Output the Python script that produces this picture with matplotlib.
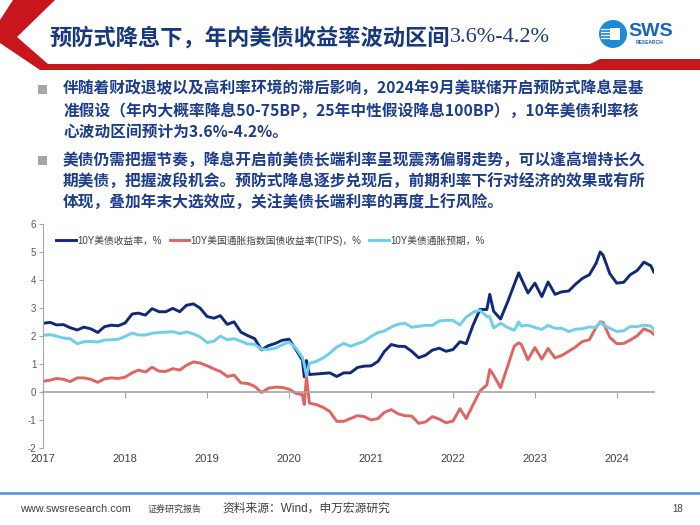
import numpy as np
import pandas as pd
import matplotlib
matplotlib.use('Agg')
import matplotlib.pyplot as plt
from matplotlib.patches import Polygon, Circle, Rectangle

plt.rcParams['font.family'] = ['Liberation Sans', 'Noto Sans CJK SC', 'DejaVu Sans']
plt.rcParams['axes.unicode_minus'] = False

# monthly readings (first trading days), Jan 2017 .. Jun 2024
months = pd.date_range('2017-01-01', '2024-06-01', freq='MS')

nominal = [
    2.45, 2.48, 2.39, 2.40, 2.29, 2.21, 2.31, 2.25, 2.12, 2.33, 2.38, 2.36,  # 2017
    2.46, 2.78, 2.81, 2.74, 2.97, 2.86, 2.86, 2.98, 2.86, 3.09, 3.14, 2.99,  # 2018
    2.69, 2.63, 2.72, 2.41, 2.50, 2.13, 2.01, 1.90, 1.50, 1.65, 1.73, 1.84,  # 2019
    1.88, 1.51, 1.13, 0.62, 0.64, 0.66, 0.68, 0.55, 0.68, 0.68, 0.87, 0.92,  # 2020
    0.93, 1.09, 1.44, 1.69, 1.63, 1.62, 1.45, 1.22, 1.31, 1.49, 1.56, 1.45,  # 2021
    1.51, 1.79, 1.72, 2.39, 2.94, 2.94, 2.88, 2.60, 3.20, 3.83, 4.05, 3.53,  # 2022
    3.88, 3.40, 3.92, 3.48, 3.57, 3.60, 3.84, 4.05, 4.18, 4.59, 4.88, 4.22,  # 2023
    3.88, 3.91, 4.18, 4.33, 4.63, 4.50,                                      # 2024
]
tips = [
    0.38, 0.42, 0.48, 0.45, 0.37, 0.50, 0.50, 0.45, 0.34, 0.47, 0.50, 0.48,
    0.53, 0.68, 0.78, 0.71, 0.88, 0.74, 0.73, 0.83, 0.78, 0.95, 1.07, 1.03,
    0.93, 0.82, 0.73, 0.55, 0.60, 0.32, 0.30, 0.20, -0.02, 0.13, 0.17, 0.16,
    0.10, -0.05, -0.10, -0.40, -0.45, -0.55, -0.70, -1.05, -1.05, -0.95, -0.85, -0.88,
    -1.00, -0.95, -0.73, -0.63, -0.78, -0.85, -0.86, -1.12, -1.07, -0.88, -0.97, -1.10,
    -1.04, -0.60, -0.95, -0.45, 0.03, 0.25, 0.60, 0.15, 0.90, 1.63, 1.70, 1.15,
    1.58, 1.17, 1.55, 1.21, 1.30, 1.45, 1.60, 1.80, 1.86, 2.30, 2.48, 1.95,
    1.72, 1.73, 1.85, 2.00, 2.25, 2.15,
]
breakeven = [
    2.02, 2.04, 1.99, 1.92, 1.90, 1.72, 1.79, 1.80, 1.78, 1.85, 1.86, 1.88,
    1.98, 2.10, 2.03, 2.03, 2.09, 2.12, 2.13, 2.15, 2.08, 2.14, 2.07, 1.96,
    1.76, 1.81, 1.99, 1.86, 1.90, 1.81, 1.71, 1.70, 1.52, 1.52, 1.56, 1.68,
    1.78, 1.56, 1.23, 1.02, 1.09, 1.21, 1.38, 1.60, 1.73, 1.63, 1.72, 1.80,
    1.98, 2.12, 2.17, 2.32, 2.41, 2.45, 2.31, 2.34, 2.38, 2.37, 2.53, 2.55,
    2.55, 2.39, 2.67, 2.84, 2.91, 2.69, 2.28, 2.45, 2.30, 2.20, 2.35, 2.38,
    2.30, 2.23, 2.37, 2.27, 2.27, 2.15, 2.24, 2.25, 2.32, 2.29, 2.40, 2.27,
    2.16, 2.18, 2.33, 2.33, 2.38, 2.35,
]

# intra-month extremes
extra_dates = pd.to_datetime(['2020-03-09', '2020-03-19', '2022-06-14',
                              '2022-10-21', '2023-10-19', '2024-06-14'])
extra_nominal = [0.54, 1.12, 3.48, 4.25, 4.99, 4.28]
extra_tips = [-0.45, 0.55, 0.80, 1.75, 2.50, 2.05]
extra_breakeven = [0.99, 0.57, 2.68, 2.50, 2.49, 2.23]

labels = ['10Y美债收益率，%', '10Y美国通胀指数国债收益率(TIPS)，%', '10Y美债通胀预期，%']
colors = ['#10297A', '#E06461', '#6DCFEA']
years = list(range(2017, 2025))

df = pd.DataFrame({'nominal': nominal + extra_nominal,
                   'tips': tips + extra_tips,
                   'be': breakeven + extra_breakeven},
                  index=list(months) + list(extra_dates)).sort_index()

fig = plt.figure(figsize=(7, 5.25), dpi=100)
fig.patch.set_facecolor('white')

# slide decoration layer, pixel coordinates
bg = fig.add_axes([0, 0, 1, 1])
bg.set_xlim(0, 700)
bg.set_ylim(525, 0)
bg.axis('off')

red = '#C8161D'
bg.add_patch(Polygon([(13, 0), (55, 0), (17, 37), (48, 64), (590, 64), (600, 59),
                      (700, 59), (700, 70), (40, 70), (0, 43), (0, 20)],
                     closed=True, facecolor=red, edgecolor='none'))

# logo
bg.add_patch(Circle((613, 34), 14, facecolor='#1E8AD6', edgecolor='none'))
bg.add_patch(Rectangle((610, 28), 10, 12, facecolor='white', edgecolor='none'))
for yy in [29, 32, 35, 38]:
    bg.plot([601, 609], [yy, yy], color='white', lw=0.9)
bg.text(628, 31, 'SWS', fontsize=14, fontweight='bold', color='#1565C0',
        va='center', ha='left', family='Liberation Sans')
bg.text(636, 43, 'RESEARCH', fontsize=3.5, fontweight='bold', color='#1565C0',
        va='center', ha='left', family='Liberation Sans')

# title: chinese bold + serif numbers
title_color = '#17387F'
t1 = bg.text(49, 38, '预防式降息下，年内美债收益率波动区间', fontsize=16, fontweight='bold',
             color=title_color, va='center', ha='left', family=['Noto Sans CJK SC'])
fig.canvas.draw()
bb = t1.get_window_extent()
x_end = bg.transData.inverted().transform((bb.x1, bb.y0))[0]
bg.text(x_end, 38, '3.6%-4.2%', fontsize=16, color=title_color, va='center',
        ha='left', family=['Liberation Serif'])

# bullet text
body_color = '#1C3C8C'
para1 = ['伴随着财政退坡以及高利率环境的滞后影响，2024年9月美联储开启预防式降息是基',
         '准假设（年内大概率降息50-75BP，25年中性假设降息100BP），10年美债利率核',
         '心波动区间预计为3.6%-4.2%。']
para2 = ['美债仍需把握节奏，降息开启前美债长端利率呈现震荡偏弱走势，可以逢高增持长久',
         '期美债，把握波段机会。预防式降息逐步兑现后，前期利率下行对经济的效果或有所',
         '体现，叠加年末大选效应，关注美债长端利率的再度上行风险。']
for lines, y0 in [(para1, 89), (para2, 160)]:
    bg.add_patch(Rectangle((38, y0 - 4.5), 9, 9, facecolor='#A6A6A6', edgecolor='none'))
    for i, line in enumerate(lines):
        bg.text(63, y0 + i * 21.5, line, fontsize=11.3, fontweight='bold', color=body_color,
                va='center', ha='left', family=['Noto Sans CJK SC'])

# footer
bg.plot([0, 700], [493, 493], color='#4A90D9', lw=1.8)
bg.text(20, 509, 'www.swsresearch.com', fontsize=7.8, color='#404040', va='center',
        family=['Liberation Sans'])
bg.text(148, 509, '证券研究报告', fontsize=6.5, color='#404040', va='center',
        family=['Noto Sans CJK SC'])
bg.text(222, 509, '资料来源：Wind，申万宏源研究', fontsize=8.5, color='#404040', va='center',
        family=['Liberation Sans', 'Noto Sans CJK SC'])
bg.text(672, 509, '18', fontsize=7, color='#404040', va='center')

# chart
ax = fig.add_axes([43.3 / 700, 1 - 448 / 525, (654 - 43.3) / 700, (448 - 223.7) / 525])
ax.set_facecolor('none')
ax.plot(df.index, df['nominal'], color=colors[0], lw=2.1, label=labels[0])
ax.plot(df.index, df['tips'], color=colors[1], lw=2.1, label=labels[1])
ax.plot(df.index, df['be'], color=colors[2], lw=2.1, label=labels[2])

ax.set_ylim(-2, 6)
ax.set_xlim(pd.Timestamp('2017-01-01'), pd.Timestamp('2024-06-15'))
ax.set_yticks(range(-2, 7))
ax.tick_params(axis='y', direction='out', length=3, color='#A6A6A6', labelsize=7,
               labelcolor='#595959', pad=2)
for s in ['top', 'right']:
    ax.spines[s].set_visible(False)
ax.spines['left'].set_color('#A6A6A6')
ax.spines['bottom'].set_position(('data', 0))
ax.spines['bottom'].set_color('#A6A6A6')
ax.spines['bottom'].set_linewidth(1.2)
year_ticks = [pd.Timestamp(f'{y}-01-01') for y in years]
ax.set_xticks(year_ticks)
ax.tick_params(axis='x', direction='out', length=4, color='#A6A6A6', labelbottom=False)
for y, t in zip(years, year_ticks):
    ax.annotate(str(y), (t, -2), xytext=(0, -4), textcoords='offset points',
                ha='center', va='top', fontsize=8, color='#404040', annotation_clip=False)

ax.legend(loc='center left', bbox_to_anchor=(0.015, 0.925), ncol=3, frameon=False,
          fontsize=7, handlelength=2.0, handletextpad=0.15, columnspacing=0.8,
          labelcolor='#404040', borderaxespad=0)

fig.savefig('out.png', dpi=100, facecolor='white')
